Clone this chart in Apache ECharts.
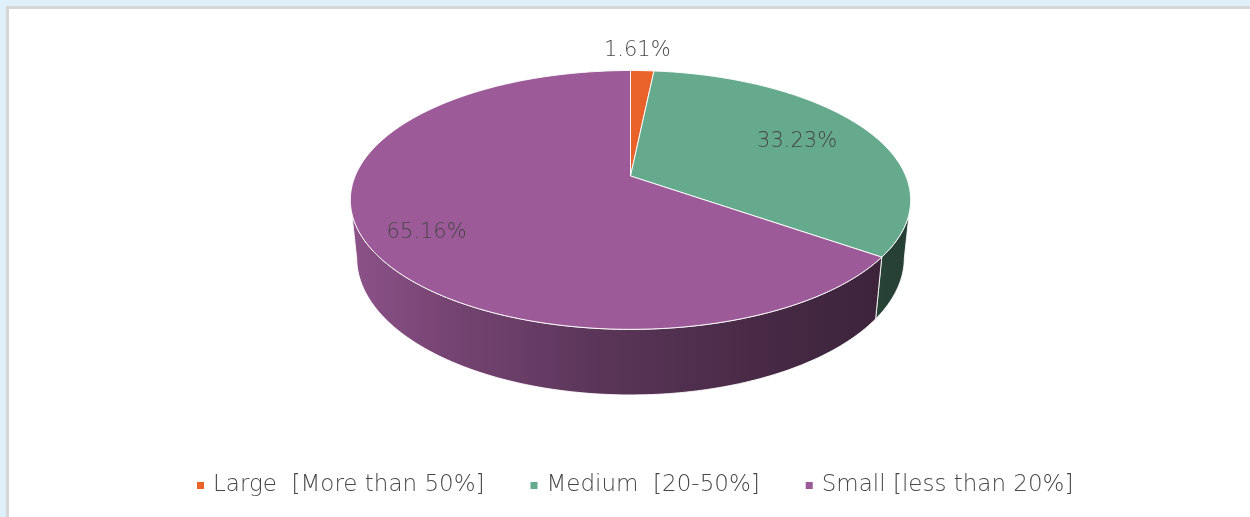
<!DOCTYPE html>
<html>
<head>
<meta charset="utf-8">
<script src="https://cdn.jsdelivr.net/npm/echarts@6/dist/echarts.min.js"></script>
<style>
  html, body { margin: 0; padding: 0; background: #fff; }
  #chart { width: 1250px; height: 517px; }
</style>
</head>
<body>
<div id="chart"></div>
<script>
// Slice categories, their shares (percent) and colours
const categories = ['Large  [More than 50%]', 'Medium  [20-50%]', 'Small [less than 20%]'];
const shares = [1.61, 33.23, 65.16];
const colors = ['#e8622a', '#66aa8d', '#9c5b98'];

const FONT = '"DejaVu Sans ExtraLight", "DejaVu Sans", sans-serif';
const FONT_WEIGHT = 200;
const TEXT_COLOR = '#474747';

// Perspective camera for the tilted disk
const CX = 630.5, CY = 176;      // screen position of the disk centre
const FOCAL = 1327;              // focal length in px (disk radius = 1)
const DIST = 4.82;               // camera distance
const TILT = 27 * Math.PI / 180; // elevation angle
const THICK = 0.238;             // disk thickness
const S = Math.sin(TILT), C = Math.cos(TILT);

// label placement per slice: [radius fraction, angle shift in degrees]
const LABEL_PLACE = [[1, 0], [0.7, 0], [0.8, -4]];

// theta: degrees clockwise from the back (12 o'clock), r: radius fraction, yh: height (0 top)
function project(theta, r, yh) {
  const t = theta * Math.PI / 180;
  const x3 = r * Math.sin(t);
  const z3 = -r * Math.cos(t);
  const depth = DIST - (yh * S + z3 * C);
  const up = yh * C - z3 * S;
  return [CX + FOCAL * x3 / depth, CY - FOCAL * up / depth];
}

// Silhouette of the side wall
const silT = Math.acos(C / DIST) * 180 / Math.PI;
const VIS0 = 180 - silT, VIS1 = 180 + silT;
const SIL_L = project(VIS1, 1, 0)[0], SIL_R = project(VIS0, 1, 0)[0];

function shade(hex, k) {
  const n = parseInt(hex.slice(1), 16);
  const ch = [(n >> 16) & 255, (n >> 8) & 255, n & 255].map(v => Math.round(v * k));
  return 'rgb(' + ch.join(',') + ')';
}
const SHADE_STOPS = [[0, 0.9], [0.18, 0.75], [0.45, 0.58], [0.75, 0.45], [1, 0.37]];

const total = shares.reduce((a, b) => a + b, 0);
const startAngles = [];
shares.reduce((acc, v, i) => { startAngles[i] = acc; return acc + v / total * 360; }, 0);

function arc(a0, a1, r, yh) {
  const pts = [];
  const steps = Math.max(2, Math.ceil((a1 - a0) / 1));
  for (let k = 0; k <= steps; k++) pts.push(project(a0 + (a1 - a0) * k / steps, r, yh));
  return pts;
}

function makeRender(i) {
  return function (params, api) {
    const value = api.value(0);
    const a0 = startAngles[i];
    const a1 = a0 + value / total * 360;
    const color = colors[i];
    const children = [];

    // visible part of the outer side wall
    const w0 = Math.max(a0, VIS0), w1 = Math.min(a1, VIS1);
    if (w1 > w0) {
      const topPts = arc(w0, w1, 1, 0);
      const botPts = arc(w0, w1, 1, -THICK).reverse();
      children.push({
        type: 'polygon',
        shape: { points: topPts.concat(botPts) },
        style: {
          fill: {
            type: 'linear', x: SIL_L, y: 0, x2: SIL_R, y2: 0, global: true,
            colorStops: SHADE_STOPS.map(s => ({ offset: s[0], color: shade(color, s[1]) }))
          },
          stroke: 'rgba(255,255,255,0.85)', lineWidth: 1
        }
      });
    }

    // top face
    const facePts = [project(0, 0, 0)].concat(arc(a0, a1, 1, 0));
    children.push({
      type: 'polygon',
      shape: { points: facePts },
      style: { fill: color, stroke: 'rgba(255,255,255,0.9)', lineWidth: 1 }
    });

    // percentage label
    const mid = (a0 + a1) / 2 + LABEL_PLACE[i][1];
    const text = value.toFixed(2) + '%';
    const labelStyle = { text, fill: TEXT_COLOR, fontSize: 21, fontWeight: FONT_WEIGHT, fontFamily: FONT, align: 'center' };
    if (value / total < 0.05) {
      const p = project(mid, LABEL_PLACE[i][0], 0);
      children.push({ type: 'text', x: p[0] - 5, y: p[1] - 10, style: Object.assign({ verticalAlign: 'bottom' }, labelStyle) });
    } else {
      const p = project(mid, LABEL_PLACE[i][0], 0);
      children.push({ type: 'text', x: p[0], y: p[1], style: Object.assign({ verticalAlign: 'middle' }, labelStyle) });
    }
    return { type: 'group', children };
  };
}

const chart = echarts.init(document.getElementById('chart'), null, { renderer: 'canvas' });
chart.setOption({
  animation: false,
  graphic: [
    { type: 'rect', z: -10, shape: { x: 0, y: 0, width: 1250, height: 517 }, style: { fill: '#dff0fb' } },
    { type: 'rect', z: -9, shape: { x: 6, y: 6, width: 1250, height: 520 }, style: { fill: '#d6d6d6' } },
    { type: 'rect', z: -8, shape: { x: 9, y: 9, width: 1250, height: 520 }, style: { fill: '#ffffff' } }
  ],
  legend: {
    left: 192,
    top: 469,
    icon: 'rect',
    itemWidth: 7,
    itemHeight: 7,
    itemGap: 46,
    selectedMode: false,
    data: categories,
    textStyle: { color: TEXT_COLOR, fontSize: 23, fontWeight: FONT_WEIGHT, fontFamily: FONT, padding: [0, 0, 0, 4] }
  },
  series: categories.map((name, i) => ({
    type: 'custom',
    name,
    coordinateSystem: 'none',
    silent: true,
    itemStyle: { color: colors[i] },
    data: [shares[i]],
    renderItem: makeRender(i)
  }))
});
</script>
</body>
</html>
